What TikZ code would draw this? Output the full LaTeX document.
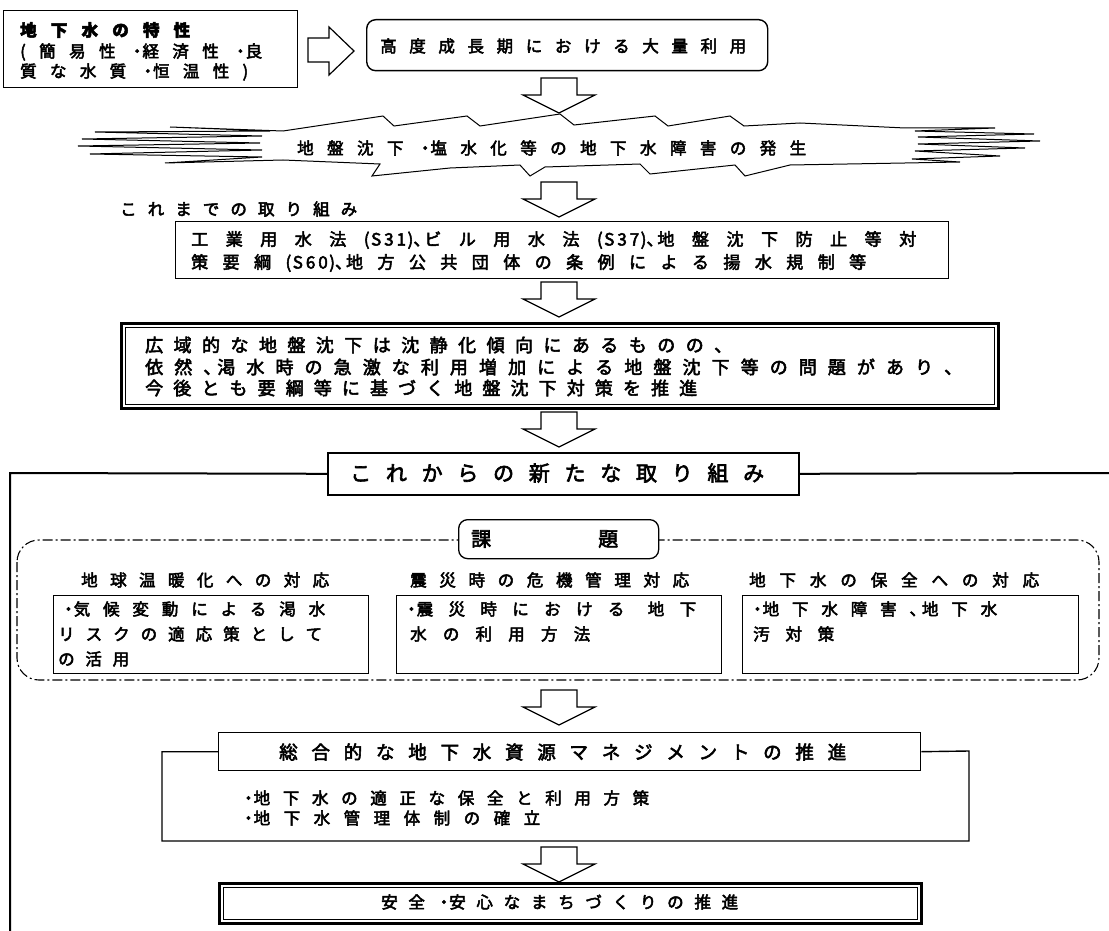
\documentclass[tikz,border=0pt]{standalone}
\usepackage{fontspec}
\setmainfont{Noto Sans CJK JP}[FakeBold=3]
\usetikzlibrary{calc}
\makeatletter
\def\sp@end{\sp@end}
\newcommand\spr[2]{\makebox[#1][s]{\spr@a#2\sp@end}}
\def\spr@a#1{\ifx\sp@end#1\else#1\expandafter\spr@b\fi}
\def\spr@b#1{\ifx\sp@end#1\else\hfil#1\expandafter\spr@b\fi}
\makeatother
\newcommand\fs[1]{\fontsize{#1}{#1}\selectfont}
\newcommand\dotc{・\hspace{-3pt}}
\newcommand\hw[1]{\hspace{1.5pt}#1\hspace{1.5pt}}
\tikzset{
  box/.style={draw, line width=1.4pt, inner sep=0pt, fill=white, anchor=north west},
  t/.style={inner sep=0pt, anchor=west, font=\fs{16.5}},
  arr/.style={draw, line width=1.2pt, fill=white, line join=miter},
  frame/.style={line width=2pt},
  dashdot/.style={line width=1.1pt, dash pattern=on 10pt off 3pt on 2pt off 3pt},
}
\newcommand\blockdown[2]{\draw[arr] (#1-18,#2) -- (#1+18,#2) -- (#1+18,#2+17) -- (#1+36,#2+17) -- (#1,#2+35) -- (#1-36,#2+17) -- (#1-18,#2+17) -- cycle;}
\begin{document}
\begin{tikzpicture}[x=1pt,y=-1pt]
\useasboundingbox[fill=white] (0,0) rectangle (1109,931);

% ---- row 1
\node[box, minimum width=294pt, minimum height=77pt] (b1) at (3,10) {};
\node[t, font=\bfseries\fs{16.5}] (b1a) at (20,30) {\spr{170pt}{地下水の特性}};
\node[t] (b1b) at (20,52) {\spr{242pt}{(簡易性{\dotc 経}済性{\dotc 良}}};
\node[t] (b1c) at (20,72) {\spr{228pt}{質な水質{\dotc 恒}温性)}};
\draw[arr] (308,38) -- (329,38) -- (329,27) -- (354,51) -- (329,75) -- (329,62) -- (308,62) -- cycle;
\node[box, rounded corners=9pt, minimum width=401pt, minimum height=51pt] (b2) at (366,19) {};
\node[t] (b2t) at (380,46) {\spr{366pt}{高度成長期における大量利用}};

\blockdown{559}{78}

% ---- starburst
\draw[line width=1pt, fill=white, line join=miter]
 (283,131) -- (383,116) -- (394,126) -- (467,116) -- (480,126) -- (560,114) -- (574,125) -- (655,116) -- (668,126) -- (730,116) -- (744,126) -- (800,123) -- (905,128)
 -- (995,128) -- (915,131) -- (1034,134) -- (918,137) -- (1040,141) -- (918,144) -- (1025,148) -- (915,151) -- (1000,156) -- (912,159) -- (960,162) -- (905,163)
 -- (790,165) -- (745,176) -- (735,165) -- (650,174) -- (640,164) -- (545,167) -- (530,176) -- (520,165) -- (450,168) -- (372,176) -- (380,164) -- (283,160)
 -- (165,163) -- (262,157) -- (90,154) -- (262,150) -- (78,146) -- (260,143) -- (82,139) -- (262,136) -- (95,132) -- (270,131) -- (170,127) -- cycle;
\node[t, font=\fs{16.5}] (sb) at (297,148) {\spr{509pt}{地盤沈下{\dotc 塩}水化等の地下水障害の発生}};

\blockdown{559}{182}

% ---- row 3
\node[t] (lab) at (120,209) {\spr{237pt}{これまでの取り組み}};
\node[box, line width=1.3pt, minimum width=773pt, minimum height=57pt] (b3) at (175,221) {};
\node[t, font=\fs{17}] (b3a) at (191,240) {\spr{725pt}{工業用水法{(\hw{S}\hw{3}\hw{1})、\hspace{-6pt}ビ}ル用水法{(\hw{S}\hw{3}\hw{7})、\hspace{-6pt}地}盤沈下防止等対}};
\node[t, font=\fs{17}] (b3b) at (191,263) {\spr{675pt}{策要綱{(\hw{S}\hw{6}\hw{0})、\hspace{-6pt}地}方公共団体の条例による揚水規制等}};

\blockdown{559}{282}

% ---- row 4
\node[box, line width=2.8pt, minimum width=877pt, minimum height=85pt] (b4) at (120,322) {};
\draw[line width=1pt] ([shift={(5pt,-5pt)}]b4.north west) rectangle ([shift={(-5pt,5pt)}]b4.south east);
\node[t, font=\fs{18}] (b4a) at (145,345) {\spr{587pt}{広域的な地盤沈下は沈静化傾向にあるものの、}};
\node[t, font=\fs{18}] (b4b) at (145,367) {\spr{817pt}{依然{、\hspace{-4pt}渇}水時の急激な利用増加による地盤沈下等の問題があり、}};
\node[t, font=\fs{18}] (b4c) at (145,388) {\spr{552pt}{今後とも要綱等に基づく地盤沈下対策を推進}};

\blockdown{559}{412}

% ---- row 5
\node[box, line width=1.6pt, minimum width=471pt, minimum height=42pt] (b5) at (327,452) {};
\node[t, font=\fs{21}] (b5t) at (350,473) {\spr{414pt}{これからの新たな取り組み}};
\coordinate (lc) at (10,473);
\coordinate (lb) at (10,931);
\coordinate (rc) at (1109,473);
\draw[frame] (b5.west) -- (lc) -- (lb);
\draw[frame] (b5.east) -- (rc);

% ---- issues region
\draw[dashdot, rounded corners=22pt] (17,540) rectangle (1099,680);
\node[box, rounded corners=9pt, line width=1.3pt, minimum width=200pt, minimum height=39pt] (kd) at (458,519) {};
\node[t, font=\fs{20}] (kdt) at (471,539) {\spr{147pt}{課題}};

\node[t] (h1) at (81,580) {\spr{248pt}{地球温暖化への対応}};
\node[t] (h2) at (410,580) {\spr{279pt}{震災時の危機管理対応}};
\node[t] (h3) at (749,580) {\spr{290pt}{地下水の保全への対応}};

\node[box, line width=1.3pt, minimum width=315pt, minimum height=78pt] (ba) at (53,595) {};
\node[box, line width=1.3pt, minimum width=325pt, minimum height=78pt] (bb) at (396,595) {};
\node[box, line width=1.3pt, minimum width=336pt, minimum height=78pt] (bc) at (742,595) {};
\node[t] (ba1) at (60,609) {\spr{265pt}{{\dotc 気}候変動による渇水}};
\node[t] (ba2) at (58,634) {\spr{264pt}{リスクの適応策として}};
\node[t] (ba3) at (58,659) {\spr{71pt}{の活用}};
\node[t] (bb1) at (403,609) {\spr{293pt}{{\dotc 震}災時におけ{る\hspace{8pt}}地下}};
\node[t] (bb2) at (410,634) {\spr{180pt}{水の利用方法}};
\node[t] (bc1) at (749,609) {\spr{248pt}{{\dotc 地}下水障害{、\hspace{-4pt}地}下水}};
\node[t] (bc2) at (753,634) {\spr{81pt}{汚対策}};

\blockdown{559}{690}

% ---- row 6
\coordinate (f1) at (162,841);
\coordinate (f2) at (969,751);
\node[box, line width=1.4pt, minimum width=702pt, minimum height=38pt] (b6) at (218,732) {};
\draw[line width=1.4pt] (b6.west) -| (f1) -| (f2) -- (b6.east);
\node[t, font=\fs{18.5}] (b6t) at (279,752) {\spr{567pt}{総合的な地下水資源マネジメントの推進}};
\node[t] (i1) at (240,798) {\spr{409pt}{{\dotc 地}下水の適正な保全と利用方策}};
\node[t] (i2) at (240,818) {\spr{300pt}{{\dotc 地}下水管理体制の確立}};

\blockdown{559}{847}

% ---- final
\node[box, line width=2.8pt, minimum width=702pt, minimum height=40pt] (b7) at (218,882) {};
\draw[line width=1pt] ([shift={(5pt,-5pt)}]b7.north west) rectangle ([shift={(-5pt,5pt)}]b7.south east);
\node[t, font=\fs{16.5}] (b7t) at (381,902) {\spr{357pt}{安全{\dotc 安}心なまちづくりの推進}};
\end{tikzpicture}
\end{document}
